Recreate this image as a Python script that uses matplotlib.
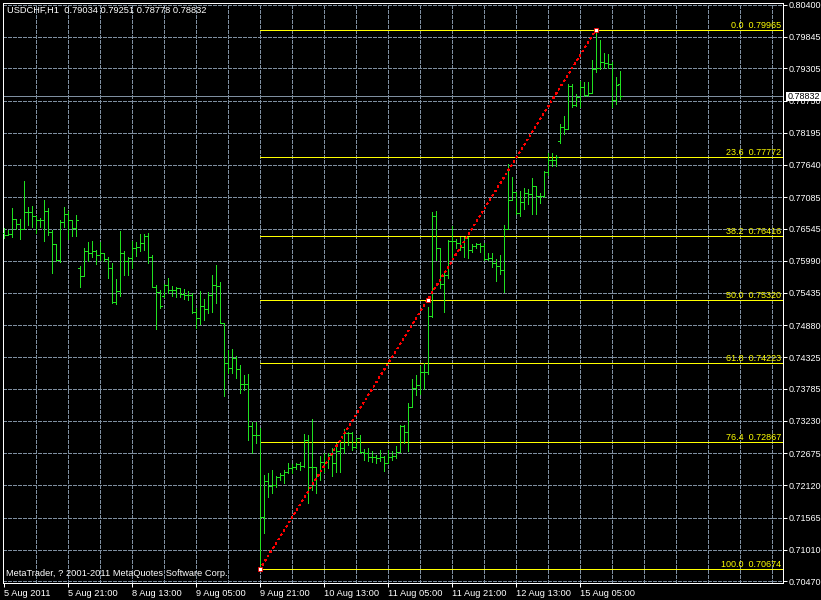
import matplotlib.pyplot as plt
from matplotlib.collections import LineCollection
from matplotlib.patches import Rectangle

# USDCHF H1 bars (oldest first)
opens = [
    .7647, .7644, .7645, .7671, .7662, .7654, .7683, .7683, .7676, .7669,
    .7669, .7685, .7648, .7628, .7600, .7666, .7679, .7669, .7655, .7586,
    .7573, .7616, .7612, .7616, .7609, .7612, .7602, .7586, .7528, .7547,
    .7612, .7599, .7604, .7621, .7623, .7630, .7641, .7605, .7554, .7545,
    .7538, .7557, .7549, .7549, .7552, .7542, .7540, .7540, .7511, .7500,
    .7521, .7516, .7540, .7557, .7555, .7492, .7423, .7414, .7431, .7412,
    .7387, .7387, .7314, .7299, .7299, .7157, .7220, .7211, .7213, .7226,
    .7230, .7235, .7242, .7243, .7249, .7245, .7290, .7243, .7243, .7230,
    .7252, .7252, .7264, .7251, .7271, .7276, .7302, .7302, .7278, .7294,
    .7269, .7268, .7261, .7261, .7259, .7261, .7251, .7261, .7263, .7269,
    .7314, .7304, .7347, .7380, .7385, .7407, .7407, .7504, .7676, .7621,
    .7559, .7574, .7633, .7633, .7630, .7623, .7638, .7618, .7625, .7628,
    .7625, .7602, .7604, .7595, .7590, .7583, .7654, .7704, .7717, .7681,
    .7700, .7716, .7714, .7728, .7711, .7711, .7752, .7773, .7773, .7805,
    .7830, .7826, .7900, .7867, .7881, .7898, .7885, .7888, .7929, .7931,
    .7941, .7940, .7938, .7876, .79034,
]
highs = [
    .7656, .7652, .7690, .7671, .7671, .7736, .7692, .7694, .7676, .7672,
    .7704, .7690, .7652, .7628, .7669, .7692, .7685, .7669, .7678, .7590,
    .7621, .7631, .7633, .7618, .7631, .7612, .7605, .7595, .7567, .7650,
    .7616, .7605, .7633, .7631, .7645, .7645, .7647, .7609, .7557, .7549,
    .7559, .7569, .7555, .7554, .7552, .7550, .7547, .7543, .7518, .7547,
    .7533, .7545, .7574, .7591, .7562, .7492, .7445, .7447, .7435, .7419,
    .7402, .7404, .7321, .7321, .7311, .7230, .7233, .7238, .7228, .7233,
    .7238, .7251, .7249, .7251, .7252, .7300, .7299, .7326, .7243, .7263,
    .7268, .7268, .7276, .7285, .7290, .7309, .7304, .7304, .7294, .7299,
    .7274, .7276, .7271, .7264, .7273, .7263, .7273, .7271, .7280, .7316,
    .7316, .7354, .7395, .7402, .7418, .7423, .7519, .7683, .7685, .7621,
    .7581, .7635, .7659, .7636, .7640, .7640, .7640, .7628, .7630, .7630,
    .7630, .7612, .7612, .7602, .7609, .7661, .7766, .7743, .7717, .7719,
    .7724, .7722, .7741, .7728, .7716, .7754, .7784, .7784, .7781, .7835,
    .7848, .7903, .7903, .7886, .7909, .7907, .7907, .7945, .79965, .7979,
    .7957, .7955, .7941, .7915, .79251,
]
lows = [
    .7639, .7643, .7640, .7654, .7636, .7654, .7661, .7657, .7647, .7657,
    .7633, .7643, .7578, .7599, .7597, .7657, .7636, .7641, .7641, .7554,
    .7573, .7599, .7605, .7593, .7600, .7599, .7569, .7526, .7524, .7538,
    .7574, .7574, .7586, .7607, .7616, .7618, .7595, .7554, .7481, .7518,
    .7537, .7543, .7538, .7537, .7537, .7533, .7531, .7509, .7483, .7490,
    .7497, .7509, .7511, .7526, .7492, .7366, .7406, .7406, .7397, .7371,
    .7376, .7290, .7268, .7285, .70674, .7130, .7192, .7199, .7209, .7221,
    .7216, .7233, .7233, .7240, .7238, .7243, .7182, .7204, .7199, .7221,
    .7235, .7242, .7228, .7235, .7235, .7268, .7282, .7273, .7276, .7268,
    .7256, .7254, .7252, .7251, .7254, .7237, .7251, .7256, .7259, .7269,
    .7285, .7271, .7347, .7368, .7369, .7378, .7404, .7502, .7600, .7552,
    .7511, .7569, .7605, .7621, .7618, .7605, .7604, .7614, .7621, .7614,
    .7600, .7600, .7588, .7564, .7576, .7545, .7654, .7704, .7679, .7676,
    .7688, .7697, .7679, .7679, .7698, .7709, .7747, .7762, .7762, .7802,
    .7817, .7826, .7864, .7866, .7864, .7883, .7883, .7888, .7924, .7929,
    .7931, .7931, .7864, .7869, .78778,
]
closes = [
    .7644, .7645, .7671, .7662, .7654, .7683, .7683, .7676, .7669, .7669,
    .7685, .7648, .7628, .7600, .7666, .7679, .7669, .7655, .7669, .7573,
    .7616, .7612, .7616, .7609, .7612, .7602, .7586, .7528, .7547, .7612,
    .7599, .7604, .7621, .7623, .7630, .7641, .7605, .7554, .7545, .7521,
    .7557, .7549, .7549, .7552, .7542, .7540, .7540, .7511, .7500, .7521,
    .7516, .7540, .7557, .7555, .7492, .7423, .7414, .7431, .7412, .7387,
    .7387, .7314, .7299, .7299, .7157, .7220, .7211, .7213, .7226, .7230,
    .7235, .7242, .7243, .7249, .7245, .7290, .7243, .7243, .7230, .7252,
    .7252, .7264, .7251, .7271, .7276, .7302, .7302, .7278, .7294, .7269,
    .7268, .7261, .7261, .7259, .7261, .7251, .7261, .7263, .7269, .7314,
    .7304, .7347, .7380, .7385, .7407, .7407, .7504, .7676, .7621, .7559,
    .7574, .7633, .7633, .7630, .7623, .7638, .7618, .7625, .7628, .7625,
    .7602, .7604, .7595, .7590, .7583, .7654, .7704, .7717, .7681, .7700,
    .7716, .7714, .7728, .7711, .7711, .7752, .7773, .7773, .7778, .7830,
    .7826, .7900, .7867, .7881, .7898, .7885, .7888, .7929, .7931, .7941,
    .7940, .7938, .7876, .7902, .78832,
]

time_labels = ["5 Aug 2011", "5 Aug 21:00", "8 Aug 13:00", "9 Aug 05:00",
               "9 Aug 21:00", "10 Aug 13:00", "11 Aug 05:00", "11 Aug 21:00",
               "12 Aug 13:00", "15 Aug 05:00"]
price_ticks = [0.70470, 0.71010, 0.71565, 0.72120, 0.72675, 0.73230, 0.73785,
               0.74325, 0.74880, 0.75435, 0.75990, 0.76545, 0.77085, 0.77640,
               0.78195, 0.78750, 0.79305, 0.79845, 0.80400]

# fibonacci retracement anchors (bar index, price)
fib_start, fib_low = 64, 0.70674
fib_end, fib_high = 148, 0.79965
fib_ratios = [0.0, 23.6, 38.2, 50.0, 61.8, 76.4, 100.0]

GRID = '#7f8fa0'
BAR = '#20e020'
LW = 0.72  # ~1px


def main():
    plt.rcParams['font.family'] = ['Liberation Sans', 'DejaVu Sans']
    fig = plt.figure(figsize=(8.21, 6.0), dpi=100, facecolor='black')
    ax = fig.add_axes([2.5 / 821, 17.5 / 600, 780.5 / 821, 580 / 600], facecolor='black')
    x0, x1 = -0.3, 194.8
    ax.set_xlim(x0, x1)
    ax.set_ylim(0.70447, 0.80439)

    # grid
    for y in price_ticks:
        ax.axhline(y, color=GRID, lw=LW, ls=(0, (4, 2)), antialiased=False, zorder=1)
    for x in range(8, int(x1) + 1, 8):
        ax.axvline(x, color=GRID, lw=LW, ls=(0, (4, 2)), antialiased=False, zorder=1)

    # OHLC bars
    segs = []
    for i, (o, h, l, c) in enumerate(zip(opens, highs, lows, closes)):
        segs.append([(i, l), (i, h)])
        segs.append([(i - 0.5, o), (i, o)])
        segs.append([(i, c), (i + 0.5, c)])
    ax.add_collection(LineCollection(segs, colors=BAR, linewidths=LW,
                                     antialiased=False, zorder=3))

    # current price line
    ax.axhline(closes[-1], color=GRID, lw=LW, antialiased=False, zorder=2)

    # fibonacci levels
    rng = fib_high - fib_low
    for r in fib_ratios:
        lvl = fib_high - r / 100 * rng
        ax.hlines(lvl, fib_start, x1, color='yellow', lw=LW, antialiased=False, zorder=2)
        ax.annotate(f"{r:.1f}  {lvl:.5f}", xy=(1, lvl),
                    xycoords=('axes fraction', 'data'), xytext=(-2, 2),
                    textcoords='offset pixels', ha='right', va='baseline',
                    color='yellow', fontsize=6.5, zorder=4)

    # trend line of the retracement
    ax.plot([fib_start, fib_end], [fib_low, fib_high], color='red', lw=1.0,
            ls=(0, (1, 2.5)), antialiased=False, zorder=4)
    ax.plot([fib_start, (fib_start + fib_end) / 2, fib_end],
            [fib_low, (fib_low + fib_high) / 2, fib_high], 's', ms=2.5,
            mfc='white', mec='red', mew=0.6, zorder=5)

    # axes styling
    for sp in ax.spines.values():
        sp.set_color('white')
        sp.set_linewidth(LW)
    ax.yaxis.tick_right()
    ax.set_yticks(price_ticks, [f"{v:.5f}" for v in price_ticks])
    ax.set_xticks(list(range(0, 16 * len(time_labels), 16)), time_labels)
    for lbl in ax.get_xticklabels():
        lbl.set_ha('left')
    ax.tick_params(axis='y', colors='white', length=3, width=LW, pad=1, labelsize=6.5)
    ax.tick_params(axis='x', colors='white', length=3, width=LW, pad=1.5, labelsize=6.7)

    ax.text(0.0058, 0.987,
            f"USDCHF,H1  {opens[-1]:.5f} {highs[-1]:.5f} {lows[-1]:.5f} {closes[-1]:.5f}",
            transform=ax.transAxes, color='white', va='center', fontsize=6.7)
    ax.text(0.0045, 0.0147, "MetaTrader, ? 2001-2011 MetaQuotes Software Corp.",
            transform=ax.transAxes, color='white', va='center', fontsize=6.7)

    # last price marker on the price scale (covers the 0.78750 label like MT4 does)
    fig.add_artist(Rectangle((785.5 / 821, (600 - 100.5) / 600), 35.5 / 821, 8.5 / 600,
                             transform=fig.transFigure, facecolor='white',
                             edgecolor='none', zorder=5))
    fig.text(787.5 / 821, 1 - 96.5 / 600, f"{closes[-1]:.5f}", color='black',
             va='center', fontsize=6.5, zorder=6)

    fig.savefig('out.png', dpi=100, facecolor='black')


if __name__ == '__main__':
    main()
